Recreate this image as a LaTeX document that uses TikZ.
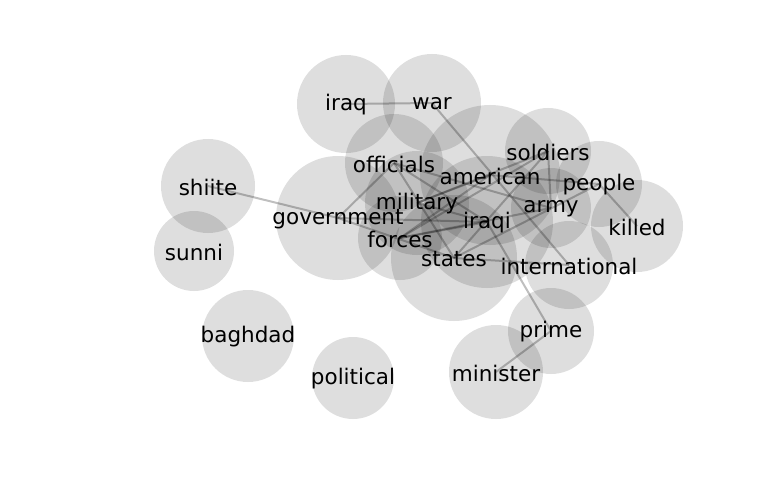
\documentclass[tikz,border=0pt]{standalone}
\usepackage{fontspec}
\setmainfont{DejaVu Sans}
\begin{document}
\begin{tikzpicture}[x=1pt,y=-1pt,
    bubble/.style={circle, fill=black, fill opacity=0.13, inner sep=0pt},
    link/.style={draw=black, opacity=0.25, line width=2pt},
    word/.style={font=\fontsize{21.5}{24}\selectfont, text=black, inner sep=0pt}]
    \useasboundingbox (0,0) rectangle (768,500);
    % word bubbles
    \foreach \w/\x/\y/\r in {iraq/346/104/49, war/432/103/49, shiite/208/186/47,
        sunni/194/251/40, baghdad/248/336/46, political/353/378/41,
        government/338/218/62, officials/394/163/49, military/417/203/52,
        forces/400/238/42, states/454/258/63, american/490/175/70,
        iraqi/487/222/66, soldiers/548/151/43, people/599/184/43,
        army/551/208/40, killed/637/226/46, international/569/265/44,
        prime/551/331/43, minister/496/372/47}
        \node[bubble, minimum size=2*\r pt] (\w) at (\x,\y) {};
    % co-occurrence links
    \foreach \a/\b in {iraq/war, war/international, shiite/government,
        government/officials, government/iraqi, government/states,
        officials/iraqi, officials/states, officials/army,
        military/american, military/soldiers, military/iraqi,
        forces/american, forces/soldiers, forces/iraqi, forces/army,
        american/people, soldiers/army, soldiers/states,
        iraqi/prime, states/people, states/international,
        people/killed, prime/minister}
        \draw[link] (\a.center) -- (\b.center);
    \foreach \w in {iraq, war, shiite, sunni, baghdad, political, government,
        officials, military, forces, states, american, iraqi, soldiers,
        people, army, killed, international, prime, minister}
        \node[word, yshift=-1pt] at (\w) {\w};
\end{tikzpicture}
\end{document}
